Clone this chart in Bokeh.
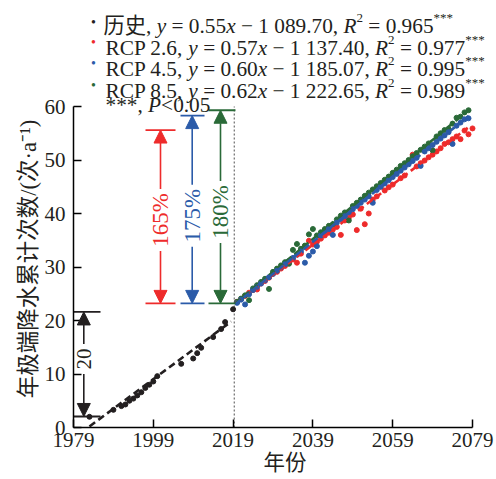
import math
from bokeh.plotting import figure
from bokeh.models import Range1d, FixedTicker, Label, Arrow, NormalHead, Title
from bokeh.embed import file_html
from bokeh.resources import INLINE

# ---------------- data ----------------
hist_year = [1983, 1989, 1991, 1992, 1993, 1994, 1995, 1996, 1997, 1998, 1999, 2000,
             2006, 2009, 2010, 2011, 2014, 2016, 2017, 2019]
hist_val = [2.0, 3.3, 4.0, 4.3, 5.0, 5.4, 6.0, 6.6, 7.4, 8.0, 8.6, 9.6,
            11.9, 12.9, 13.9, 14.9, 16.9, 18.4, 19.7, 22.1]

proj_year = [2020, 2021, 2022, 2023, 2024, 2025, 2026, 2027, 2028, 2029,
             2030, 2031, 2032, 2033, 2034, 2035, 2036, 2037, 2038, 2039,
             2040, 2041, 2042, 2043, 2044, 2045, 2046, 2047, 2048, 2049,
             2050, 2051, 2052, 2053, 2054, 2055, 2056, 2057, 2058, 2059,
             2060, 2061, 2062, 2063, 2064, 2065, 2066, 2067, 2068, 2069,
             2070, 2071, 2072, 2073, 2074, 2075, 2076, 2077, 2078]
rcp26_year = proj_year + [2079]
rcp26 = [23.5, 24.0, 24.6, 25.2, 25.7, 25.8, 26.9, 27.4, 28.0, 28.8,
         29.1, 29.7, 30.2, 30.8, 31.4, 30.8, 32.5, 33.9, 34.9, 34.2,
         34.7, 35.3, 35.9, 36.4, 37.0, 37.5, 36.0, 38.7, 39.2, 39.8,
         36.9, 40.9, 38.0, 40.0, 42.6, 43.2, 45.0, 44.3, 44.9, 45.4,
         48.0, 46.6, 47.1, 49.8, 51.0, 48.8, 49.4, 49.9, 50.5, 51.0,
         51.6, 52.2, 53.0, 53.3, 53.9, 54.4, 53.9, 55.5, 54.8, 55.9]
rcp45 = [23.3, 23.9, 23.0, 24.9, 25.7, 26.3, 26.9, 27.5, 28.1, 28.7,
         29.3, 29.9, 30.5, 31.1, 31.7, 32.3, 32.9, 30.8, 32.1, 32.9,
         33.9, 35.9, 36.5, 37.1, 36.0, 38.3, 38.9, 39.5, 40.2, 40.8,
         41.4, 42.0, 42.6, 43.2, 42.0, 44.4, 45.0, 45.6, 46.2, 46.8,
         47.4, 48.0, 48.6, 49.2, 49.8, 50.4, 48.9, 51.6, 52.2, 52.8,
         53.4, 54.0, 54.6, 55.2, 53.0, 56.4, 57.0, 57.6, 57.8]
rcp85 = [23.5, 24.1, 24.7, 23.8, 26.0, 26.6, 27.2, 27.8, 25.9, 29.1,
         29.7, 30.3, 30.9, 30.6, 33.2, 34.3, 33.4, 34.0, 36.1, 37.1,
         35.9, 36.5, 37.1, 37.7, 38.0, 38.9, 39.6, 40.2, 38.7, 41.4,
         42.0, 42.6, 43.3, 43.9, 44.5, 45.1, 45.7, 46.3, 46.9, 47.6,
         48.2, 48.9, 49.4, 50.0, 50.7, 51.3, 51.9, 52.5, 53.1, 51.8,
         54.4, 55.0, 55.6, 55.8, 56.8, 57.9, 58.1, 58.9, 59.3]

hist_trend_x = [1983.0, 2018.5]
hist_trend_y = [0.2, 19.8]
rcp26_trend_x = [2019.5, 2077.8]
rcp26_trend_y = [23.2, 56.0]
rcp45_trend_x = [2019.5, 2078.0]
rcp45_trend_y = [23.0, 58.2]
rcp85_trend_x = [2019.5, 2078.0]
rcp85_trend_y = [23.2, 59.3]

x_ticks = [1979, 1999, 2019, 2039, 2059, 2079]
y_ticks = [0, 10, 20, 30, 40, 50, 60]
x_title = "年份"
y_title = "年极端降水累计次数/(次·a⁻¹)"

series_names = ["历史", "RCP 2.6", "RCP 4.5", "RCP 8.5"]
slopes = ["0.55", "0.57", "0.60", "0.62"]
intercepts = ["1 089.70", "1 137.40", "1 185.07", "1 222.65"]
r2_values = ["0.965", "0.977", "0.995", "0.989"]
colors = ["#231f20", "#ee2b2b", "#2b5ba9", "#2a6a38"]

change_labels = ["165%", "175%", "180%"]
change_base = 23.2
change_top = [55.6, 58.3, 59.3]
change_mid = [38.8, 39.6, 40.3]
hist_change_label = "20"
hist_change_bottom = 2.06
hist_change_top = 21.6
hist_change_mid = 12.8
split_year = 2019.3

# ---------------- geometry ----------------
W_CANVAS, H_CANVAS = 496, 479
FL, FB = 73, 427            # frame left / bottom (px)
AX_R, AX_T = 472, 106       # pixel position of 2079 and of 60
PX_X = (AX_R - FL) / 100.0
PX_Y = (FB - AX_T) / 60.0
X_END = 1979 + (W_CANVAS - FL) / PX_X
Y_END = FB / PX_Y


def xd(px):
    return 1979 + (px - FL) / PX_X


SERIF = "Liberation Serif, Noto Sans CJK SC"
INK = "#231f20"

p = figure(width=W_CANVAS, height=H_CANVAS, output_backend="svg", toolbar_location=None,
           title=None, x_range=Range1d(1979, X_END), y_range=Range1d(0, Y_END),
           min_border_left=FL, min_border_right=0, min_border_top=0,
           min_border_bottom=H_CANVAS - FB)
p.outline_line_color = None
p.xgrid.visible = False
p.ygrid.visible = False
p.background_fill_color = "white"
p.border_fill_color = "white"

for ax in (p.xaxis[0], p.yaxis[0]):
    ax.axis_line_color = "black"
    ax.axis_line_width = 1.5
    ax.major_tick_line_color = "black"
    ax.major_tick_line_width = 1.5
    ax.major_tick_in = 8
    ax.major_tick_out = 0
    ax.minor_tick_line_color = None
    ax.major_label_text_font = "Liberation Serif"
    ax.major_label_text_font_size = "21px"
    ax.major_label_text_color = INK
p.xaxis.ticker = FixedTicker(ticks=x_ticks)
p.yaxis.ticker = FixedTicker(ticks=y_ticks)
p.xaxis.bounds = (1979, 2079)
p.yaxis.bounds = (0, 60)
p.xaxis.major_label_standoff = 5
p.yaxis.major_label_standoff = 8


def axis_title(text, side, offset, size):
    t = Title(text=text, align="center", vertical_align="middle", offset=offset,
              text_font=SERIF, text_font_size=size, text_font_style="normal",
              text_color=INK)
    if "standoff" in t.properties():
        t.standoff = 0
    p.add_layout(t, side)


# ideographic spaces at the end move the vertical title down along the axis
axis_title(y_title + "\u3000" * 4, "left", -(267.5 - FB / 2.0), "22.5px")
axis_title(x_title, "below", 272 - (FL + W_CANVAS) / 2.0, "21.5px")

# split line
p.segment(x0=[split_year], y0=[0], x1=[split_year], y1=[60], line_color="#777777",
          line_width=1.3, line_dash="2 2")

# points
p.scatter(hist_year, hist_val, size=5, color=colors[0])
p.scatter(rcp26_year, rcp26, size=5, color=colors[1])
p.scatter(proj_year, rcp85, size=5, color=colors[3])
p.scatter(proj_year, rcp45, size=5, color=colors[2])

# trend lines
for tx, ty, c in [(hist_trend_x, hist_trend_y, colors[0]),
                  (rcp26_trend_x, rcp26_trend_y, colors[1]),
                  (rcp85_trend_x, rcp85_trend_y, colors[3]),
                  (rcp45_trend_x, rcp45_trend_y, colors[2])]:
    p.line(tx, ty, line_color=c, line_width=2.6, line_dash="7 4")


def double_arrow(xa, x0, x1, ylo, yhi, ymid, label, color, fsize, half_gap):
    p.segment(x0=[x0, x0], y0=[ylo, yhi], x1=[x1, x1], y1=[ylo, yhi],
              line_color=color, line_width=1.8)
    g = half_gap / PX_Y
    head = dict(size=13, fill_color=color, line_color=color, line_width=1)
    p.add_layout(Arrow(end=NormalHead(**head), x_start=xa, y_start=ymid + g,
                       x_end=xa, y_end=yhi, line_color=color, line_width=1.6))
    p.add_layout(Arrow(end=NormalHead(**head), x_start=xa, y_start=ymid - g,
                       x_end=xa, y_end=ylo, line_color=color, line_width=1.6))
    p.add_layout(Label(x=xa, y=ymid, text=label, angle=math.pi / 2, text_align="center",
                       text_baseline="middle", text_color=color,
                       text_font="Liberation Serif", text_font_size=fsize))


# historical change arrow
double_arrow(xd(83.3), xd(73), xd(100), hist_change_bottom, hist_change_top,
             hist_change_mid, hist_change_label, colors[0], "21px", 15)

# projection change arrows
arrow_px = [(160, 145, 175), (191.7, 180, 204), (220, 208, 235)]
for i, (xa, x0, x1) in enumerate(arrow_px):
    double_arrow(xd(xa), xd(x0), xd(x1), change_base, change_top[i], change_mid[i],
                 change_labels[i], colors[i + 1], "23px", 31)

# ---------------- legend (screen units, relative to frame) ----------------
W = {' ': 0.25, ',': 0.25, '.': 0.25, '=': 0.564, '−': 0.564, '*': 0.5, '<': 0.564,
     'R': 0.667, 'C': 0.667, 'P': 0.556, '%': 0.833}
WI = {'y': 0.444, 'x': 0.444, 'R': 0.611, 'P': 0.611}


def text_w(s, size, italic=False):
    t = 0.0
    for ch in s:
        if italic and ch in WI:
            t += WI[ch]
        elif ord(ch) > 0x2E80:
            t += 1.0
        else:
            t += W.get(ch, 0.5)
    return t * size


def scr_label(px, py, text, size, style="normal", color=INK):
    p.add_layout(Label(x=px - FL, y=FB - py, x_units="screen", y_units="screen",
                       text=text, text_align="left", text_baseline="alphabetic",
                       text_color=color, text_font=SERIF, text_font_size=f"{size}px",
                       text_font_style=style))


F = 21.3
S = 13.0


def piece_row(x_start, base, pieces):
    x = x_start
    for txt, kind in pieces:
        it = kind == "it"
        size = S if kind == "sup" else F
        lead = len(txt) - len(txt.lstrip(" "))
        core = txt.strip(" ")
        scr_label(x + lead * 0.25 * size, base - (8 if kind == "sup" else 0), core, size,
                  "italic" if it else "normal")
        x += text_w(txt, size, it)


baselines = [25, 47, 68, 90]
dot_y = [17, 37, 58, 80]
for i in range(4):
    scr_label(90.5, dot_y[i] + 5, "•", 14, color=colors[i])
    x0 = 103 if i == 0 else 105
    piece_row(x0, baselines[i], [
        (series_names[i] + ", ", "n"), ("y", "it"), (" = " + slopes[i], "n"),
        ("x", "it"), (" − " + intercepts[i] + ", ", "n"), ("R", "it"),
        ("2", "sup"), (" = " + r2_values[i], "n"), ("***", "sup")])
piece_row(105, 104, [("***, ", "n"), ("P", "it"), ("<0.05", "n")])

open("out.html", "w").write(file_html(p, INLINE))
